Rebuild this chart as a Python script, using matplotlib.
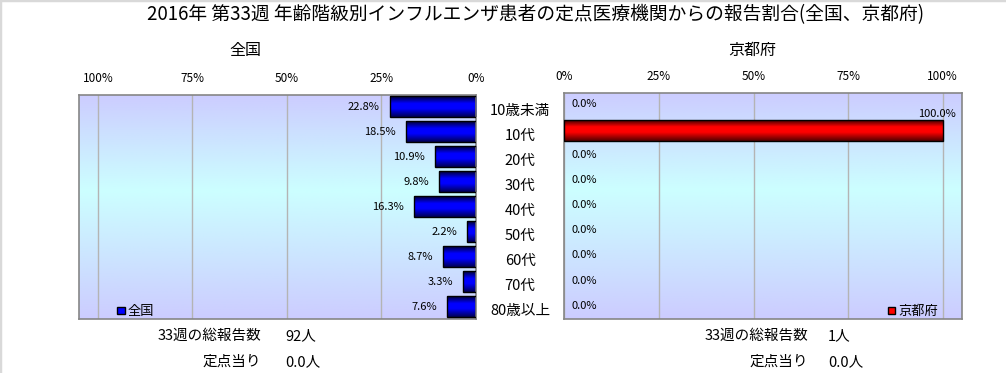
import matplotlib
matplotlib.use("Agg")
import matplotlib.pyplot as plt
import numpy as np
from matplotlib.colors import LinearSegmentedColormap
from matplotlib.patches import Patch
from matplotlib.lines import Line2D

plt.rcParams["font.family"] = ["Noto Sans CJK JP", "DejaVu Sans"]

# ── データ ──────────────────────────────────────────────────────────────
age_groups = ["10歳未満", "10代", "20代", "30代", "40代", "50代", "60代", "70代", "80歳以上"]
zenkoku = [22.8, 18.5, 10.9, 9.8, 16.3, 2.2, 8.7, 3.3, 7.6]
kyoto = [0.0, 100.0, 0.0, 0.0, 0.0, 0.0, 0.0, 0.0, 0.0]
pct_ticks = [0, 25, 50, 75, 100]

week = 33
total_zenkoku = 92
total_kyoto = 1
per_site_zenkoku = 0.0
per_site_kyoto = 0.0

W, H = 1006, 373
fig = plt.figure(figsize=(W / 100, H / 100), dpi=100)

bg_cmap = LinearSegmentedColormap.from_list(
    "bg", [(0, "#ccccff"), (0.43, "#ccffff"), (1, "#ccccff")])
blue_cmap = LinearSegmentedColormap.from_list(
    "blue", [(0, "#000030"), (0.35, "#0000ff"), (0.6, "#0000ff"), (1, "#000050")])
red_cmap = LinearSegmentedColormap.from_list(
    "red", [(0, "#200000"), (0.35, "#ff0000"), (0.6, "#ff0000"), (1, "#500000")])


def px(x0, y_top, x1, y_bot):
    return [x0 / W, 1 - y_bot / H, (x1 - x0) / W, (y_bot - y_top) / H]


def setup(ax, values, cmap):
    y = np.arange(len(values))
    grad = np.linspace(0, 1, 256).reshape(-1, 1)
    ax.imshow(grad, extent=[0, 1, 0, 1], transform=ax.transAxes,
              aspect="auto", cmap=bg_cmap, zorder=-1)
    bars = ax.barh(y, values, height=0.84, facecolor="none",
                   edgecolor="black", lw=1, zorder=3)
    for b in bars:
        if b.get_width() <= 0:
            b.set_visible(False)
            continue
        im = ax.imshow(grad, extent=[b.get_x(), b.get_x() + b.get_width(),
                                     b.get_y() + b.get_height(), b.get_y()],
                       aspect="auto", cmap=cmap, zorder=2)
        im.set_clip_path(b)
    ax.set_xlim(0, 105)
    ax.set_ylim(len(values) - 0.5, -0.5)
    ax.set_xticks(pct_ticks)
    ax.set_xticklabels([f"{t}%" for t in pct_ticks])
    ax.xaxis.tick_top()
    ax.tick_params(axis="x", length=0, pad=7, labelsize=8.5)
    ax.set_yticks([])
    ax.grid(axis="x", color="#b4b4b4", lw=1)
    ax.set_axisbelow(True)
    for s in ax.spines.values():
        s.set_color("#868686")
        s.set_linewidth(1.2)
    return y


# 全国（左）
axl = fig.add_axes(px(79, 94.5, 475.7, 319.3))
yl = setup(axl, zenkoku, blue_cmap)
axl.invert_xaxis()
for yi, v in zip(yl, zenkoku):
    axl.annotate(f"{v:.1f}%", (v, yi), xytext=(-10, 0), textcoords="offset pixels",
                 ha="right", va="center", fontsize=8)
for yi, lab in zip(yl, age_groups):
    axl.annotate(lab, (0, yi), xytext=(44.5, -4), textcoords="offset pixels",
                 ha="center", va="center", fontsize=10.5, annotation_clip=False)
axl.legend(handles=[Patch(facecolor="#0000ff", edgecolor="black")], labels=["全国"],
           loc="lower left", bbox_to_anchor=(0.097, 0.005), frameon=False,
           handlelength=0.55, handleheight=0.55, handletextpad=0.2,
           borderpad=0, borderaxespad=0, fontsize=9.5)

# 京都府（右）
axr = fig.add_axes(px(564.3, 92.5, 961.7, 319.3))
yr = setup(axr, kyoto, red_cmap)
for yi, v in zip(yr, kyoto):
    if v > 0:
        axr.annotate(f"{v:.1f}%", (v, yi), xytext=(13, 16), textcoords="offset pixels",
                     ha="right", va="center", fontsize=8)
    else:
        axr.annotate(f"{v:.1f}%", (v, yi), xytext=(7, 1), textcoords="offset pixels",
                     ha="left", va="center", fontsize=8)
axr.legend(handles=[Patch(facecolor="#ff0000", edgecolor="black")], labels=["京都府"],
           loc="lower right", bbox_to_anchor=(0.94, 0.005), frameon=False,
           handlelength=0.55, handleheight=0.55, handletextpad=0.2,
           borderpad=0, borderaxespad=0, fontsize=9.5)

# タイトル
fig.text(536 / W, 1 - 15 / H,
         f"2016年 第{week}週 年齢階級別インフルエンザ患者の定点医療機関からの報告割合(全国、京都府)",
         ha="center", va="center", fontsize=13.5)
fig.text(245 / W, 1 - 50 / H, "全国", ha="center", va="center", fontsize=11.5)
fig.text(752 / W, 1 - 50 / H, "京都府", ha="center", va="center", fontsize=11.5)

# 報告数
for x_lab, x_val, total, per in [(261, 285, total_zenkoku, per_site_zenkoku),
                                 (808, 828, total_kyoto, per_site_kyoto)]:
    fig.text(x_lab / W, 1 - 336 / H, f"{week}週の総報告数", ha="right", va="center", fontsize=10.5)
    fig.text(x_val / W, 1 - 336 / H, f"{total}人", ha="left", va="center", fontsize=10.5)
    fig.text(x_lab / W, 1 - 362 / H, "定点当り", ha="right", va="center", fontsize=10.5)
    fig.text(x_val / W, 1 - 362 / H, f"{per:.1f}人", ha="left", va="center", fontsize=10.5)

# 外枠（上と左）
fig.add_artist(Line2D([0, 0], [0, 1], color="#d9d9d9", lw=2.5, transform=fig.transFigure))
fig.add_artist(Line2D([0, 1], [1, 1], color="#d9d9d9", lw=2.5, transform=fig.transFigure))

fig.savefig("out.png", dpi=100)
